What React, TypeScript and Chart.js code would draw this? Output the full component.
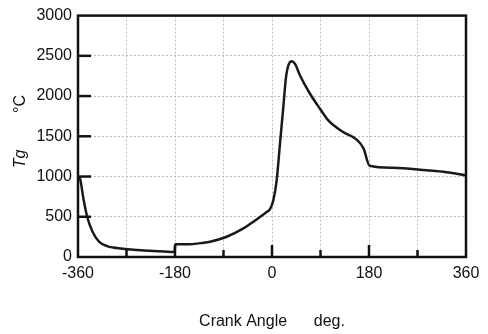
import React, { useEffect, useRef } from "react";
import { Chart, registerables } from "chart.js";

Chart.register(...registerables);

const crankAngle = [
  -360, -356, -350, -343, -333, -321, -306, -295, -281, -262, -244, -220, -200, -180.6,
  -179.6, -158, -127, -115, -84, -53, -36, -20, -10, -4, 2.5, 8.7, 14.8, 21, 26, 30.3, 36.5, 42.7,
  52, 70.5, 89, 104.5, 132, 157, 170, 181, 225, 287, 324, 360,
];
const gasTemp = [
  1000, 967, 727, 500, 314, 190, 136, 118, 106, 93, 83, 75, 68, 62,
  157, 157, 177, 190, 252, 355, 432, 510, 560, 591, 706, 955, 1409, 1863, 2235, 2380, 2433, 2400,
  2256, 2029, 1843, 1698, 1553, 1459, 1347, 1135, 1110, 1078, 1054, 1016,
];
const xTicks = [-360, -180, 0, 180, 360];
const yTicks = [0, 500, 1000, 1500, 2000, 2500, 3000];
const xTitle = "Crank Angle      deg.";
const yTitleName = "Tg";
const yTitleUnit = "°C";

const FONT = "'Liberation Sans', Arial, sans-serif";

const framePlugin = {
  id: "frame",
  afterDraw(chart: any) {
    const { ctx, chartArea } = chart;
    const xs = chart.scales.x;
    const ys = chart.scales.y;
    ctx.save();
    ctx.strokeStyle = "#111";
    ctx.lineWidth = 2.5;
    ctx.strokeRect(chartArea.left, chartArea.top, chartArea.right - chartArea.left, chartArea.bottom - chartArea.top);
    // x inner ticks
    for (let v = -270; v <= 270; v += 90) {
      const px = xs.getPixelForValue(v);
      const len = v % 180 === 0 ? 12 : 7;
      ctx.beginPath();
      ctx.moveTo(px, chartArea.bottom);
      ctx.lineTo(px, chartArea.bottom - len);
      ctx.stroke();
    }
    // y inner ticks
    for (const v of yTicks) {
      if (v === 0 || v === 3000) continue;
      const py = ys.getPixelForValue(v);
      ctx.beginPath();
      ctx.moveTo(chartArea.left, py);
      ctx.lineTo(chartArea.left + 13, py);
      ctx.stroke();
    }
    // titles
    ctx.fillStyle = "#111";
    ctx.font = `16px ${FONT}`;
    ctx.textAlign = "center";
    ctx.textBaseline = "middle";
    ctx.fillText(xTitle, (chartArea.left + chartArea.right) / 2, 322);
    ctx.translate(21, 0);
    ctx.rotate(-Math.PI / 2);
    ctx.font = `italic 16px ${FONT}`;
    ctx.fillText(yTitleName, -159, 0);
    ctx.font = `16px ${FONT}`;
    ctx.fillText(yTitleUnit, -104, 0);
    ctx.restore();
  },
};

export default function App() {
  const ref = useRef<HTMLCanvasElement>(null);
  useEffect(() => {
    document.body.style.margin = "0";
    const chart = new Chart(ref.current!, {
      type: "line",
      data: {
        datasets: [
          {
            data: crankAngle.map((x, i) => ({ x, y: gasTemp[i] })),
            borderColor: "#1a1a1a",
            borderWidth: 2.5,
            pointRadius: 0,
            cubicInterpolationMode: "monotone",
            fill: false,
          },
        ],
      },
      options: {
        animation: false,
        responsive: false,
        maintainAspectRatio: false,
        layout: { padding: { top: 15, right: 22, left: 0, bottom: 0 } },
        plugins: { legend: { display: false }, tooltip: { enabled: false } },
        scales: {
          x: {
            type: "linear",
            min: -360,
            max: 360,
            afterBuildTicks(scale: any) {
              const t = [];
              for (let v = -360; v <= 360; v += 90) t.push({ value: v });
              scale.ticks = t;
            },
            afterFit(scale: any) {
              scale.height = 334 - 257;
            },
            ticks: {
              autoSkip: false,
              maxRotation: 0,
              padding: 7,
              color: "#111",
              font: { family: FONT, size: 16 },
              callback: (v: any) => (xTicks.includes(Number(v)) ? String(v) : ""),
            },
            grid: { color: "#b8b8b8", lineWidth: 1, drawTicks: false },
            border: { display: false, dash: [2, 2] },
          },
          y: {
            type: "linear",
            min: 0,
            max: 3000,
            afterBuildTicks(scale: any) {
              scale.ticks = yTicks.map((v) => ({ value: v }));
            },
            afterFit(scale: any) {
              scale.width = 78;
            },
            ticks: {
              padding: 6,
              color: "#111",
              font: { family: FONT, size: 16 },
              callback: (v: any) => String(v),
            },
            grid: { color: "#b8b8b8", lineWidth: 1, drawTicks: false },
            border: { display: false, dash: [2, 2] },
          },
        },
      },
      plugins: [framePlugin],
    } as any);
    return () => chart.destroy();
  }, []);
  return (
    <div style={{ width: 488, height: 334 }}>
      <canvas ref={ref} width={488} height={334} style={{ width: 488, height: 334 }} />
    </div>
  );
}
